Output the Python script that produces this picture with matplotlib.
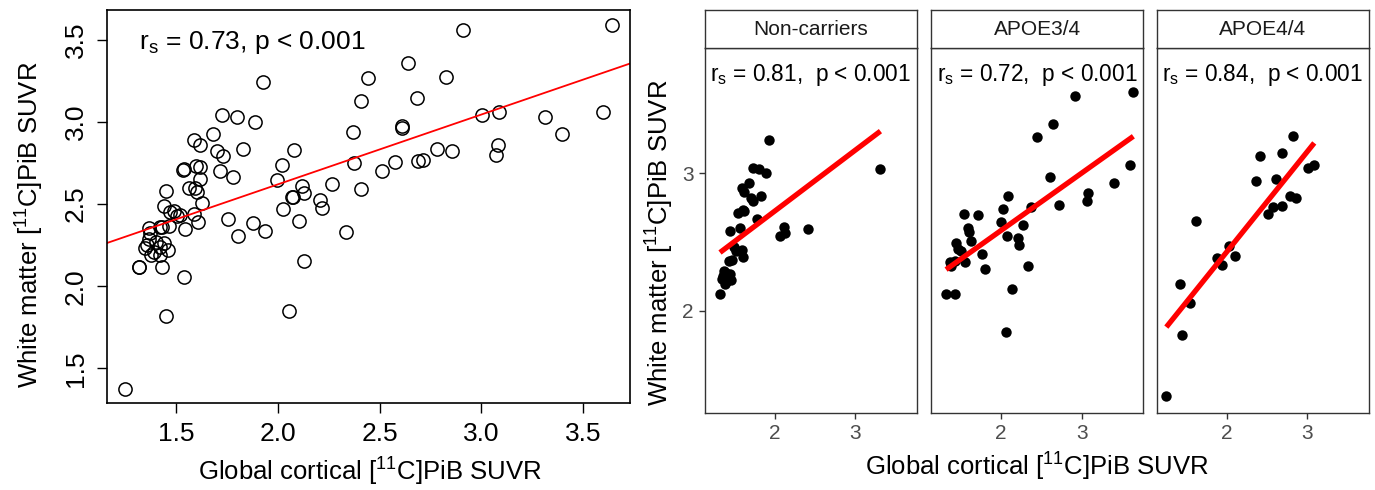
import numpy as np
import matplotlib
matplotlib.use('Agg')
import matplotlib.pyplot as plt

plt.rcParams['font.family'] = ['Liberation Sans', 'DejaVu Sans']

groups = ['Non-carriers', 'APOE3/4', 'APOE4/4']
rs_groups = ['0.81', '0.72', '0.84']
rs_all = '0.73'

# global cortical SUVR (x) vs white matter SUVR (y)
nc_x = [1.93, 1.725, 1.80, 1.89, 1.59, 1.68, 1.62, 1.70, 1.73, 1.83, 1.60, 1.62, 1.54,
        1.78, 1.45, 1.565, 2.12, 2.13, 2.07, 2.41, 1.49, 1.52, 1.59, 1.61, 1.43, 1.465,
        1.37, 1.40, 1.44, 1.35, 1.39, 1.42, 1.38, 1.32, 3.31, 1.36, 1.46]
nc_y = [3.24, 3.04, 3.03, 3.00, 2.89, 2.925, 2.86, 2.82, 2.795, 2.835, 2.73, 2.725, 2.71,
        2.665, 2.58, 2.60, 2.61, 2.565, 2.54, 2.59, 2.46, 2.435, 2.44, 2.39, 2.36, 2.365,
        2.29, 2.27, 2.265, 2.23, 2.21, 2.24, 2.19, 2.12, 3.03, 2.25, 2.22]

a34_x = [3.64, 2.91, 2.64, 2.445, 3.595, 2.61, 3.395, 3.08, 3.07, 2.714, 2.376, 2.081,
         2.02, 1.995, 2.268, 2.077, 2.207, 2.217, 2.333, 2.129, 2.054, 1.717, 1.537,
         1.595, 1.603, 1.627, 1.44, 1.47, 1.505, 1.758, 1.546, 1.366, 1.374, 1.423,
         1.804, 1.317, 1.43]
a34_y = [3.59, 3.56, 3.36, 3.265, 3.06, 2.975, 2.927, 2.857, 2.796, 2.766, 2.75, 2.83,
         2.736, 2.648, 2.624, 2.545, 2.525, 2.478, 2.328, 2.156, 1.847, 2.699, 2.705,
         2.598, 2.571, 2.506, 2.49, 2.45, 2.43, 2.41, 2.35, 2.355, 2.324, 2.36,
         2.303, 2.12, 2.12]

a44_x = [2.825, 2.408, 2.686, 3.005, 3.085, 2.368, 2.61, 2.78, 2.856, 2.51, 2.578, 2.69,
         1.616, 2.027, 1.877, 1.938, 2.104, 1.42, 1.542, 1.45, 1.25]
a44_y = [3.27, 3.126, 3.145, 3.04, 3.06, 2.94, 2.96, 2.833, 2.82, 2.70, 2.754, 2.76,
         2.65, 2.468, 2.385, 2.334, 2.395, 2.19, 2.056, 1.82, 1.378]

group_x = [nc_x, a34_x, a44_x]
group_y = [nc_y, a34_y, a44_y]
all_x = nc_x + a34_x + a44_x
all_y = nc_y + a34_y + a44_y

sup = r'[$\mathregular{^{11}}$C]PiB SUVR'

fig = plt.figure(figsize=(13.75, 4.9), dpi=100)

# ---- left panel: all subjects (base R style)
ax = fig.add_axes([0.0776, 0.1776, 0.3806, 0.802])
ax.plot(all_x, all_y, 'o', mfc='none', mec='black', ms=9.5, mew=1.1)
b, a = np.polyfit(all_x, all_y, 1)
ax.axline((0, a), slope=b, color='red', lw=1.3)
ax.set_xlim(1.16, 3.73)
ax.set_ylim(1.29, 3.68)
ax.set_xticks([1.5, 2.0, 2.5, 3.0, 3.5])
ax.set_xticklabels(['1.5', '2.0', '2.5', '3.0', '3.5'])
ax.set_yticks([1.5, 2.0, 2.5, 3.0, 3.5])
ax.set_yticklabels(['1.5', '2.0', '2.5', '3.0', '3.5'])
ax.tick_params(length=7.5, width=1, labelsize=19, pad=6)
for t in ax.get_yticklabels():
    t.set_rotation(90)
    t.set_va('center')
for s in ax.spines.values():
    s.set_linewidth(1.2)
ax.text(1.875, 3.485, r'$\mathregular{r_s}$ = ' + rs_all + ', p < 0.001',
        ha='center', va='center', fontsize=19)
fig.text(370 / 1375, 1 - 472 / 490, 'Global cortical ' + sup, ha='center', va='center', fontsize=18.5)
fig.text(30 / 1375, 1 - 225 / 490, 'White matter ' + sup, ha='center', va='center',
         rotation=90, fontsize=18.5)

# ---- right panels: facets by APOE group (ggplot style)
lefts = [0.5125, 0.6771, 0.8412]
edge = '#333333'
for i in range(3):
    fax = fig.add_axes([lefts[i], 0.1571, 0.1542, 0.7449])
    gx = np.array(group_x[i])
    gy = np.array(group_y[i])
    fax.plot(gx, gy, 'o', color='black', ms=7.5, mew=0)
    b, a = np.polyfit(gx, gy, 1)
    xs = np.array([gx.min(), gx.max()])
    fax.plot(xs, a + b * xs, color='red', lw=3.8, solid_capstyle='butt')
    fax.set_xlim(1.13, 3.76)
    fax.set_ylim(1.255, 3.91)
    fax.set_xticks([2, 3])
    fax.set_yticks([2, 3])
    fax.tick_params(length=4, width=1, color=edge, labelcolor='#4D4D4D', labelsize=15, pad=4)
    if i > 0:
        fax.tick_params(axis='y', left=False, labelleft=False)
    for s in fax.spines.values():
        s.set_color(edge)
        s.set_linewidth(1)
    fax.text(0.5, 0.926, r'$\mathregular{r_s}$ = ' + rs_groups[i] + ',  p < 0.001',
             transform=fax.transAxes, ha='center', va='center', fontsize=16.3)

    sax = fig.add_axes([lefts[i], 0.902, 0.1542, 0.0776])
    sax.set_xticks([])
    sax.set_yticks([])
    for s in sax.spines.values():
        s.set_color(edge)
        s.set_linewidth(1)
    sax.text(0.5, 0.5, groups[i], ha='center', va='center', fontsize=15, color='#1A1A1A')

fig.text(1037 / 1375, 1 - 467 / 490, 'Global cortical ' + sup, ha='center', va='center', fontsize=18.5)
fig.text(660 / 1375, 1 - 243 / 490, 'White matter ' + sup, ha='center', va='center',
         rotation=90, fontsize=18.5)

fig.savefig('out.png', dpi=100)
